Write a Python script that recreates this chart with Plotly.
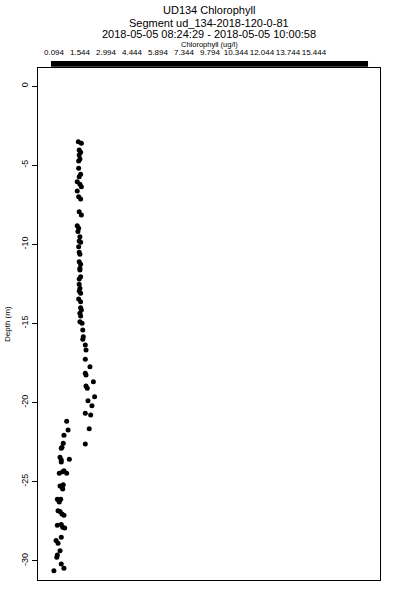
import plotly.graph_objects as go

depth = [-3.52, -3.62, -4.04, -4.19, -4.36, -4.61, -4.74, -5.20, -5.58, -5.73,
         -6.05, -6.21, -6.36, -6.63, -6.99, -7.14, -7.94, -8.15, -8.83, -8.99,
         -9.20, -9.52, -9.79, -9.87, -10.15, -10.51, -10.63, -11.10, -11.26, -11.52,
         -11.62, -12.05, -12.19, -12.53, -12.78, -12.95, -13.10, -13.46, -13.63, -14.01,
         -14.15, -14.36, -14.53, -14.89, -14.99, -15.41, -15.84, -16.00, -16.36, -16.68,
         -17.26, -17.73, -18.15, -18.26, -18.68, -18.95, -19.10, -19.63, -19.88, -20.20,
         -20.68, -20.78, -21.18, -21.65, -21.73, -22.07, -22.57, -22.61, -22.82, -22.89,
         -23.46, -23.58, -23.63, -23.75, -24.30, -24.37, -24.47, -24.47, -25.19, -25.27,
         -25.35, -25.46, -26.11, -26.20, -26.11, -26.28, -26.83, -26.89, -27.04, -27.12,
         -27.75, -27.71, -27.88, -27.92, -28.51, -28.72, -28.89, -29.36, -29.63, -29.77,
         -30.20, -30.47, -30.62]
chl = [1.45, 1.62, 1.50, 1.58, 1.50, 1.54, 1.47, 1.47, 1.58, 1.50,
       1.39, 1.54, 1.62, 1.39, 1.47, 1.58, 1.50, 1.62, 1.39, 1.47,
       1.43, 1.54, 1.50, 1.58, 1.47, 1.50, 1.54, 1.50, 1.58, 1.54,
       1.54, 1.58, 1.50, 1.50, 1.54, 1.50, 1.58, 1.47, 1.58, 1.58,
       1.62, 1.54, 1.58, 1.54, 1.66, 1.70, 1.73, 1.70, 1.84, 1.88,
       1.84, 2.10, 1.84, 1.88, 2.29, 1.88, 1.95, 2.36, 1.99, 2.21,
       1.84, 2.14, 0.80, 2.06, 0.88, 0.65, 0.61, 1.84, 0.54, 0.50,
       0.43, 0.95, 0.50, 0.50, 0.65, 0.58, 0.39, 0.80, 0.61, 0.43,
       0.54, 0.58, 0.28, 0.36, 0.47, 0.39, 0.32, 0.43, 0.54, 0.65,
       0.28, 0.50, 0.58, 0.69, 0.50, 0.21, 0.32, 0.43, 0.28, 0.25,
       0.50, 0.65, 0.09]

x_tickvals = [0.094 + 1.45 * k for k in range(11)]
x_ticktext = ["0.094", "1.544", "2.994", "4.444", "5.894", "7.344",
              "9.794", "10.344", "12.044", "13.744", "15.444"]
y_tickvals = [0, -5, -10, -15, -20, -25, -30]

title_lines = ["UD134 Chlorophyll", "Segment ud_134-2018-120-0-81",
               "2018-05-05 08:24:29 - 2018-05-05 10:00:58"]
x_label = "Chlorophyll (ug/l)"
y_label = "Depth (m)"

font = "Liberation Sans, Arial, sans-serif"

fig = go.Figure()
fig.add_trace(go.Scatter(x=chl, y=depth, mode="markers",
                         marker=dict(color="black", size=5, line=dict(width=0)),
                         showlegend=False, hoverinfo="skip"))

fig.update_layout(
    width=400, height=600,
    margin=dict(l=38, r=20, t=68, b=20, autoexpand=False),
    paper_bgcolor="white", plot_bgcolor="white",
    font=dict(family=font, color="black", size=8),
    xaxis=dict(side="top", range=[-0.798, 18.28], tickmode="array",
               tickvals=x_tickvals, ticktext=x_ticktext, tickangle=0,
               ticks="outside", ticklen=9, tickcolor="rgba(0,0,0,0)",
               tickfont=dict(size=8, color="black"), showgrid=False, zeroline=False,
               automargin=False,
               showline=True, linecolor="black", linewidth=1, mirror=True),
    yaxis=dict(range=[-31.21, 1.137], tickmode="array", tickvals=y_tickvals,
               ticktext=[str(v) for v in y_tickvals], tickangle=-90,
               ticks="outside", ticklen=5, tickcolor="black", tickwidth=1,
               tickfont=dict(size=9, color="black"), showgrid=False, zeroline=False,
               automargin=False,
               showline=True, linecolor="black", linewidth=1, mirror=True),
)

# thick black bar along top axis
fig.add_shape(type="rect", xref="paper", yref="paper",
              x0=0.038, x1=0.965, y0=1.0025, y1=1.0137,
              fillcolor="black", line=dict(width=0))

ys = [1.1135, 1.0885, 1.0655]
for txt, yy in zip(title_lines, ys):
    fig.add_annotation(text=txt, xref="paper", yref="paper", x=0.5, y=yy,
                       xanchor="center", yanchor="middle", showarrow=False,
                       font=dict(size=11, family=font, color="black"))
fig.add_annotation(text=x_label, xref="paper", yref="paper", x=0.5, y=1.0459,
                   xanchor="center", yanchor="middle", showarrow=False,
                   font=dict(size=7.5, family=font, color="black"))
fig.add_annotation(text=y_label, xref="paper", yref="paper", x=-0.0906, y=0.5,
                   xanchor="center", yanchor="middle", showarrow=False,
                   textangle=-90, font=dict(size=8, family=font, color="black"))

# remove the page's default body margin so the figure sits at the window's corner
fig.write_html("out.html", config={"displayModeBar": False},
               post_script="document.body.style.margin='0';")
